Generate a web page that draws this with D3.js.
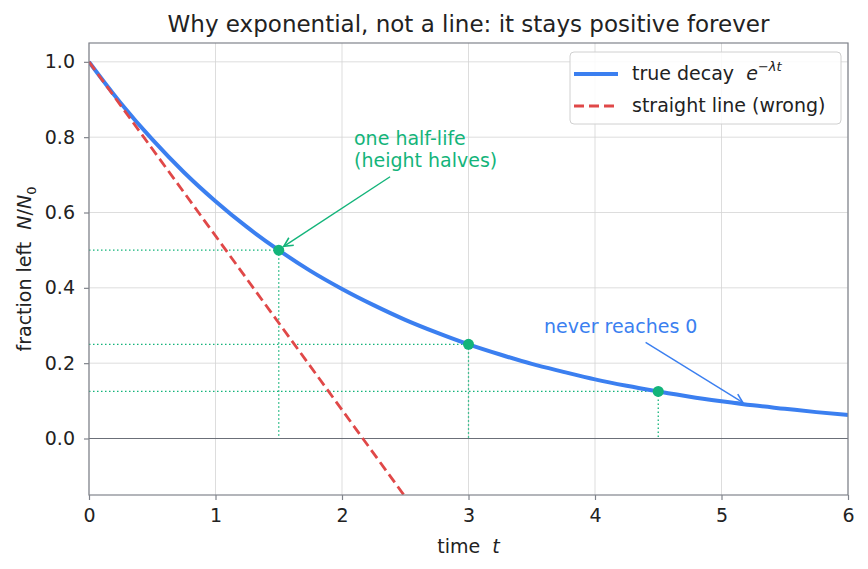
<!DOCTYPE html>
<html>
<head>
<meta charset="utf-8">
<script src="https://cdn.jsdelivr.net/npm/d3@7"></script>
<style>
  body { margin: 0; background: #fff; }
  text { font-family: "DejaVu Sans", sans-serif; white-space: pre; }
</style>
</head>
<body>
<div id="chart"></div>
<script>
// data
const tValues = [0, 0.25, 0.5, 0.75, 1, 1.25, 1.5, 1.75, 2, 2.25, 2.5, 2.75, 3,
  3.25, 3.5, 3.75, 4, 4.25, 4.5, 4.75, 5, 5.25, 5.5, 5.75, 6];
const decayValues = [1, 0.891, 0.794, 0.707, 0.63, 0.561, 0.5, 0.445, 0.397, 0.354,
  0.315, 0.281, 0.25, 0.223, 0.198, 0.177, 0.157, 0.14, 0.125, 0.111, 0.099,
  0.088, 0.079, 0.07, 0.0625];
const lineT = [0, 2.5];
const lineValues = [1, -0.155];
const halfLifeT = [1.5, 3, 4.5];
const halfLifeY = [0.5, 0.25, 0.125];
const xTicks = [0, 1, 2, 3, 4, 5, 6];
const yTicks = [0, 0.2, 0.4, 0.6, 0.8, 1.0];

const width = 868, height = 569;
const margin = { top: 43, right: 20, bottom: 74, left: 89 };

const blue = "#3b7ff0", red = "#e04848", green = "#13b47a";
const fs = 19;

const svg = d3.select("#chart").append("svg")
  .attr("width", width).attr("height", height);

const xScale = d3.scaleLinear().domain([0, 6]).range([margin.left, width - margin.right]);
const yScale = d3.scaleLinear().domain([-0.15, 1.05]).range([height - margin.bottom, margin.top]);

svg.append("clipPath").attr("id", "clip").append("rect")
  .attr("x", margin.left).attr("y", margin.top)
  .attr("width", xScale(6) - margin.left).attr("height", yScale(-0.15) - margin.top);

// grid
svg.append("g").selectAll("line").data(xTicks).enter().append("line")
  .attr("x1", d => xScale(d)).attr("x2", d => xScale(d))
  .attr("y1", margin.top).attr("y2", yScale(-0.15))
  .attr("stroke", "#d4d4d4").attr("stroke-width", 0.8);
svg.append("g").selectAll("line").data(yTicks).enter().append("line")
  .attr("y1", d => yScale(d)).attr("y2", d => yScale(d))
  .attr("x1", margin.left).attr("x2", xScale(6))
  .attr("stroke", "#d4d4d4").attr("stroke-width", 0.8);

// zero line
svg.append("line")
  .attr("x1", margin.left).attr("x2", xScale(6))
  .attr("y1", yScale(0)).attr("y2", yScale(0))
  .attr("stroke", "#6b6f78").attr("stroke-width", 1.2);

const plot = svg.append("g").attr("clip-path", "url(#clip)");

// dotted guide lines for half-lives
halfLifeT.forEach((t, i) => {
  plot.append("line")
    .attr("x1", xScale(0)).attr("x2", xScale(t))
    .attr("y1", yScale(halfLifeY[i])).attr("y2", yScale(halfLifeY[i]))
    .attr("stroke", green).attr("stroke-width", 1.3).attr("stroke-dasharray", "1.5,2.5");
  plot.append("line")
    .attr("x1", xScale(t)).attr("x2", xScale(t))
    .attr("y1", yScale(halfLifeY[i])).attr("y2", yScale(0))
    .attr("stroke", green).attr("stroke-width", 1.3).attr("stroke-dasharray", "1.5,2.5");
});

// true decay
plot.append("path")
  .datum(tValues.map((t, i) => [t, decayValues[i]]))
  .attr("d", d3.line().curve(d3.curveMonotoneX).x(d => xScale(d[0])).y(d => yScale(d[1])))
  .attr("fill", "none").attr("stroke", blue).attr("stroke-width", 4);

// straight line (wrong)
plot.append("path")
  .datum(lineT.map((t, i) => [t, lineValues[i]]))
  .attr("d", d3.line().x(d => xScale(d[0])).y(d => yScale(d[1])))
  .attr("fill", "none").attr("stroke", red).attr("stroke-width", 2.8)
  .attr("stroke-dasharray", "10,5");

// half-life points
plot.selectAll("circle").data(halfLifeT).enter().append("circle")
  .attr("cx", d => xScale(d)).attr("cy", (d, i) => yScale(halfLifeY[i]))
  .attr("r", 5.5).attr("fill", green);

// spines
svg.append("rect")
  .attr("x", margin.left).attr("y", margin.top)
  .attr("width", xScale(6) - margin.left).attr("height", yScale(-0.15) - margin.top)
  .attr("fill", "none").attr("stroke", "#80848c").attr("stroke-width", 1.2);

// axes
const xAxis = svg.append("g")
  .attr("transform", `translate(0,${yScale(-0.15)})`)
  .call(d3.axisBottom(xScale).tickValues(xTicks).tickFormat(d3.format("d")).tickSize(5).tickPadding(9));
const yAxis = svg.append("g")
  .attr("transform", `translate(${margin.left},0)`)
  .call(d3.axisLeft(yScale).tickValues(yTicks).tickFormat(d3.format(".1f")).tickSize(5).tickPadding(9));
[xAxis, yAxis].forEach(a => {
  a.select(".domain").remove();
  a.attr("font-size", fs).attr("font-family", "DejaVu Sans, sans-serif");
  a.selectAll(".tick line").attr("stroke", "#80848c").attr("stroke-width", 1.2);
  a.selectAll(".tick text").attr("fill", "#222");
});

// axis labels
const xLab = svg.append("text")
  .attr("x", (margin.left + xScale(6)) / 2).attr("y", 553)
  .attr("text-anchor", "middle").attr("font-size", fs).attr("fill", "#222");
xLab.append("tspan").text("time  ");
xLab.append("tspan").attr("font-style", "italic").text("t");

const yLab = svg.append("text")
  .attr("transform", `translate(31,${(margin.top + yScale(-0.15)) / 2}) rotate(-90)`)
  .attr("text-anchor", "middle").attr("font-size", fs).attr("fill", "#222");
yLab.append("tspan").text("fraction left  ");
yLab.append("tspan").attr("font-style", "italic").text("N");
yLab.append("tspan").text("/");
yLab.append("tspan").attr("font-style", "italic").text("N");
yLab.append("tspan").attr("font-size", 13).attr("dy", 5).text("0");

// title
svg.append("text")
  .attr("x", (margin.left + xScale(6)) / 2).attr("y", 32)
  .attr("text-anchor", "middle").attr("font-size", 23).attr("fill", "#222")
  .text("Why exponential, not a line: it stays positive forever");

// annotations
const defs = svg.append("defs");
[["arrGreen", green], ["arrBlue", blue]].forEach(([id, c]) => {
  defs.append("marker").attr("id", id)
    .attr("viewBox", "0 0 10 10").attr("refX", 9).attr("refY", 5)
    .attr("markerWidth", 8).attr("markerHeight", 8).attr("orient", "auto")
    .append("path").attr("d", "M1,1 L9,5 L1,9").attr("fill", "none")
    .attr("stroke", c).attr("stroke-width", 1.4);
});

svg.append("text").attr("x", 354).attr("y", 145).attr("font-size", fs).attr("fill", green)
  .text("one half-life");
svg.append("text").attr("x", 354).attr("y", 167).attr("font-size", fs).attr("fill", green)
  .text("(height halves)");
svg.append("line")
  .attr("x1", xScale(2.38)).attr("y1", yScale(0.695))
  .attr("x2", xScale(1.54)).attr("y2", yScale(0.51))
  .attr("stroke", green).attr("stroke-width", 1.4).attr("marker-end", "url(#arrGreen)");

svg.append("text").attr("x", 544).attr("y", 333).attr("font-size", fs).attr("fill", blue)
  .text("never reaches 0");
svg.append("line")
  .attr("x1", xScale(4.4)).attr("y1", yScale(0.255))
  .attr("x2", xScale(5.17)).attr("y2", yScale(0.095))
  .attr("stroke", blue).attr("stroke-width", 1.4).attr("marker-end", "url(#arrBlue)");

// legend
const lg = svg.append("g").attr("transform", "translate(570,52)");
lg.append("rect").attr("width", 271).attr("height", 72).attr("rx", 4)
  .attr("fill", "#fff").attr("fill-opacity", 0.85).attr("stroke", "#d0d0d0");
lg.append("line").attr("x1", 4).attr("x2", 48).attr("y1", 22).attr("y2", 22)
  .attr("stroke", blue).attr("stroke-width", 4);
lg.append("line").attr("x1", 4).attr("x2", 48).attr("y1", 54).attr("y2", 54)
  .attr("stroke", red).attr("stroke-width", 2.8).attr("stroke-dasharray", "10,5");
const l1 = lg.append("text").attr("x", 62).attr("y", 28).attr("font-size", fs).attr("fill", "#222");
l1.append("tspan").text("true decay  ");
l1.append("tspan").attr("font-style", "italic").text("e");
l1.append("tspan").attr("font-size", 13).attr("dy", -9).attr("font-style", "italic").text("−λt");
lg.append("text").attr("x", 62).attr("y", 60).attr("font-size", fs).attr("fill", "#222")
  .text("straight line (wrong)");
</script>
</body>
</html>
